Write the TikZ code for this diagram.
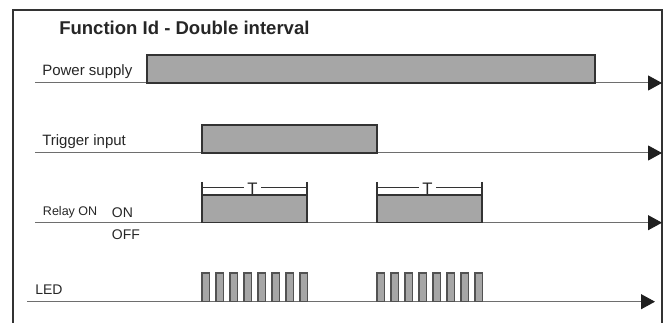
\documentclass[tikz,border=0pt]{standalone}
\usepackage{fontspec}
\setmainfont{Liberation Sans}
\usetikzlibrary{arrows.meta}
\definecolor{barfill}{HTML}{A6A6A6}
\definecolor{edgegray}{HTML}{333333}
\definecolor{axisgray}{HTML}{6E6E6E}
\tikzset{
  frame/.style={draw=edgegray, line width=1.1pt},
  bar/.style={draw=edgegray, fill=barfill, line width=0.9pt},
  pulse/.style={draw=edgegray!85, fill=barfill, line width=0.8pt},
  axisline/.style={draw=axisgray, line width=0.75pt,
    -{Triangle[length=10.5pt,width=11.25pt,color=black!88]}},
  sigtext/.style={anchor=base west, inner sep=0pt, text=black!85},
  ticks/.style={draw=edgegray, line width=0.8pt},
}
\begin{document}
\begin{tikzpicture}[x=0.75pt,y=0.75pt,yscale=-1,xscale=1]
  \useasboundingbox (0,0) rectangle (670,323);
  \draw[frame] (13,323) -- (13,10) -- (662,10) -- (662,323);
  \draw (59,35) node[sigtext, font=\bfseries\fontsize{13.9}{16}\selectfont] (title) {Function Id - Double interval};

  % power supply
  \coordinate (pwrA) at (35,83);
  \coordinate (pwrB) at (662,83);
  \draw[axisline] (pwrA) -- (pwrB);
  \draw[bar] (147,55) rectangle (595,83);
  \draw (42,76) node[sigtext, font=\fontsize{11.25}{13}\selectfont] (pwr) {Power supply};

  % trigger input
  \coordinate (trgA) at (35,153);
  \coordinate (trgB) at (662,153);
  \draw[axisline] (trgA) -- (trgB);
  \draw[bar] (202,125) rectangle (377,153);
  \draw (42,146) node[sigtext, font=\fontsize{11.25}{13}\selectfont] (trg) {Trigger input};

  % relay
  \coordinate (relA) at (35,222.7);
  \coordinate (relB) at (662,222.7);
  \draw[axisline] (relA) -- (relB);
  \draw[bar] (202,195) rectangle (307,222.7);
  \draw[bar] (377,195) rectangle (482,222.7);
  \draw (42.7,215.7) node[sigtext, font=\fontsize{9.4}{11}\selectfont] (rel) {Relay ON};
  \draw (111.7,217.7) node[sigtext, font=\fontsize{10.5}{12}\selectfont] (on) {ON};
  \draw (111.7,240) node[sigtext, font=\fontsize{10.5}{12}\selectfont] (off) {OFF};

  % T brackets
  \draw[ticks] (202,182) -- (202,195);
  \draw[ticks] (307,182) -- (307,195);
  \draw[ticks] (377,182) -- (377,195);
  \draw[ticks] (482,182) -- (482,195);
  \draw (252.5,194.5) node[anchor=base, inner xsep=2.4pt, inner ysep=0pt, text=black!85, font=\fontsize{12.5}{14}\selectfont] (T1) {T};
  \draw (427.5,194.5) node[anchor=base, inner xsep=2.4pt, inner ysep=0pt, text=black!85, font=\fontsize{12.5}{14}\selectfont] (T2) {T};
  \coordinate (t1l) at (202,187.3);
  \coordinate (t1r) at (307,187.3);
  \coordinate (t2l) at (377,187.3);
  \coordinate (t2r) at (482,187.3);
  \draw[ticks] (t1l) -- (t1l -| T1.west);
  \draw[ticks] (t1r -| T1.east) -- (t1r);
  \draw[ticks] (t2l) -- (t2l -| T2.west);
  \draw[ticks] (t2r -| T2.east) -- (t2r);

  % LED
  \coordinate (ledA) at (27,301.7);
  \coordinate (ledB) at (655,301.7);
  \draw[axisline] (ledA) -- (ledB);
  \draw (35,295) node[sigtext, font=\fontsize{10.5}{12}\selectfont] (led) {LED};
  \draw[pulse] (202,273) rectangle (209.3,301.7);
  \draw[pulse] (216,273) rectangle (223.3,301.7);
  \draw[pulse] (230,273) rectangle (237.3,301.7);
  \draw[pulse] (244,273) rectangle (251.3,301.7);
  \draw[pulse] (258,273) rectangle (265.3,301.7);
  \draw[pulse] (272,273) rectangle (279.3,301.7);
  \draw[pulse] (286,273) rectangle (293.3,301.7);
  \draw[pulse] (300,273) rectangle (307.3,301.7);
  \draw[pulse] (377,273) rectangle (384.3,301.7);
  \draw[pulse] (391,273) rectangle (398.3,301.7);
  \draw[pulse] (405,273) rectangle (412.3,301.7);
  \draw[pulse] (419,273) rectangle (426.3,301.7);
  \draw[pulse] (433,273) rectangle (440.3,301.7);
  \draw[pulse] (447,273) rectangle (454.3,301.7);
  \draw[pulse] (461,273) rectangle (468.3,301.7);
  \draw[pulse] (475,273) rectangle (482.3,301.7);
\end{tikzpicture}
\end{document}
